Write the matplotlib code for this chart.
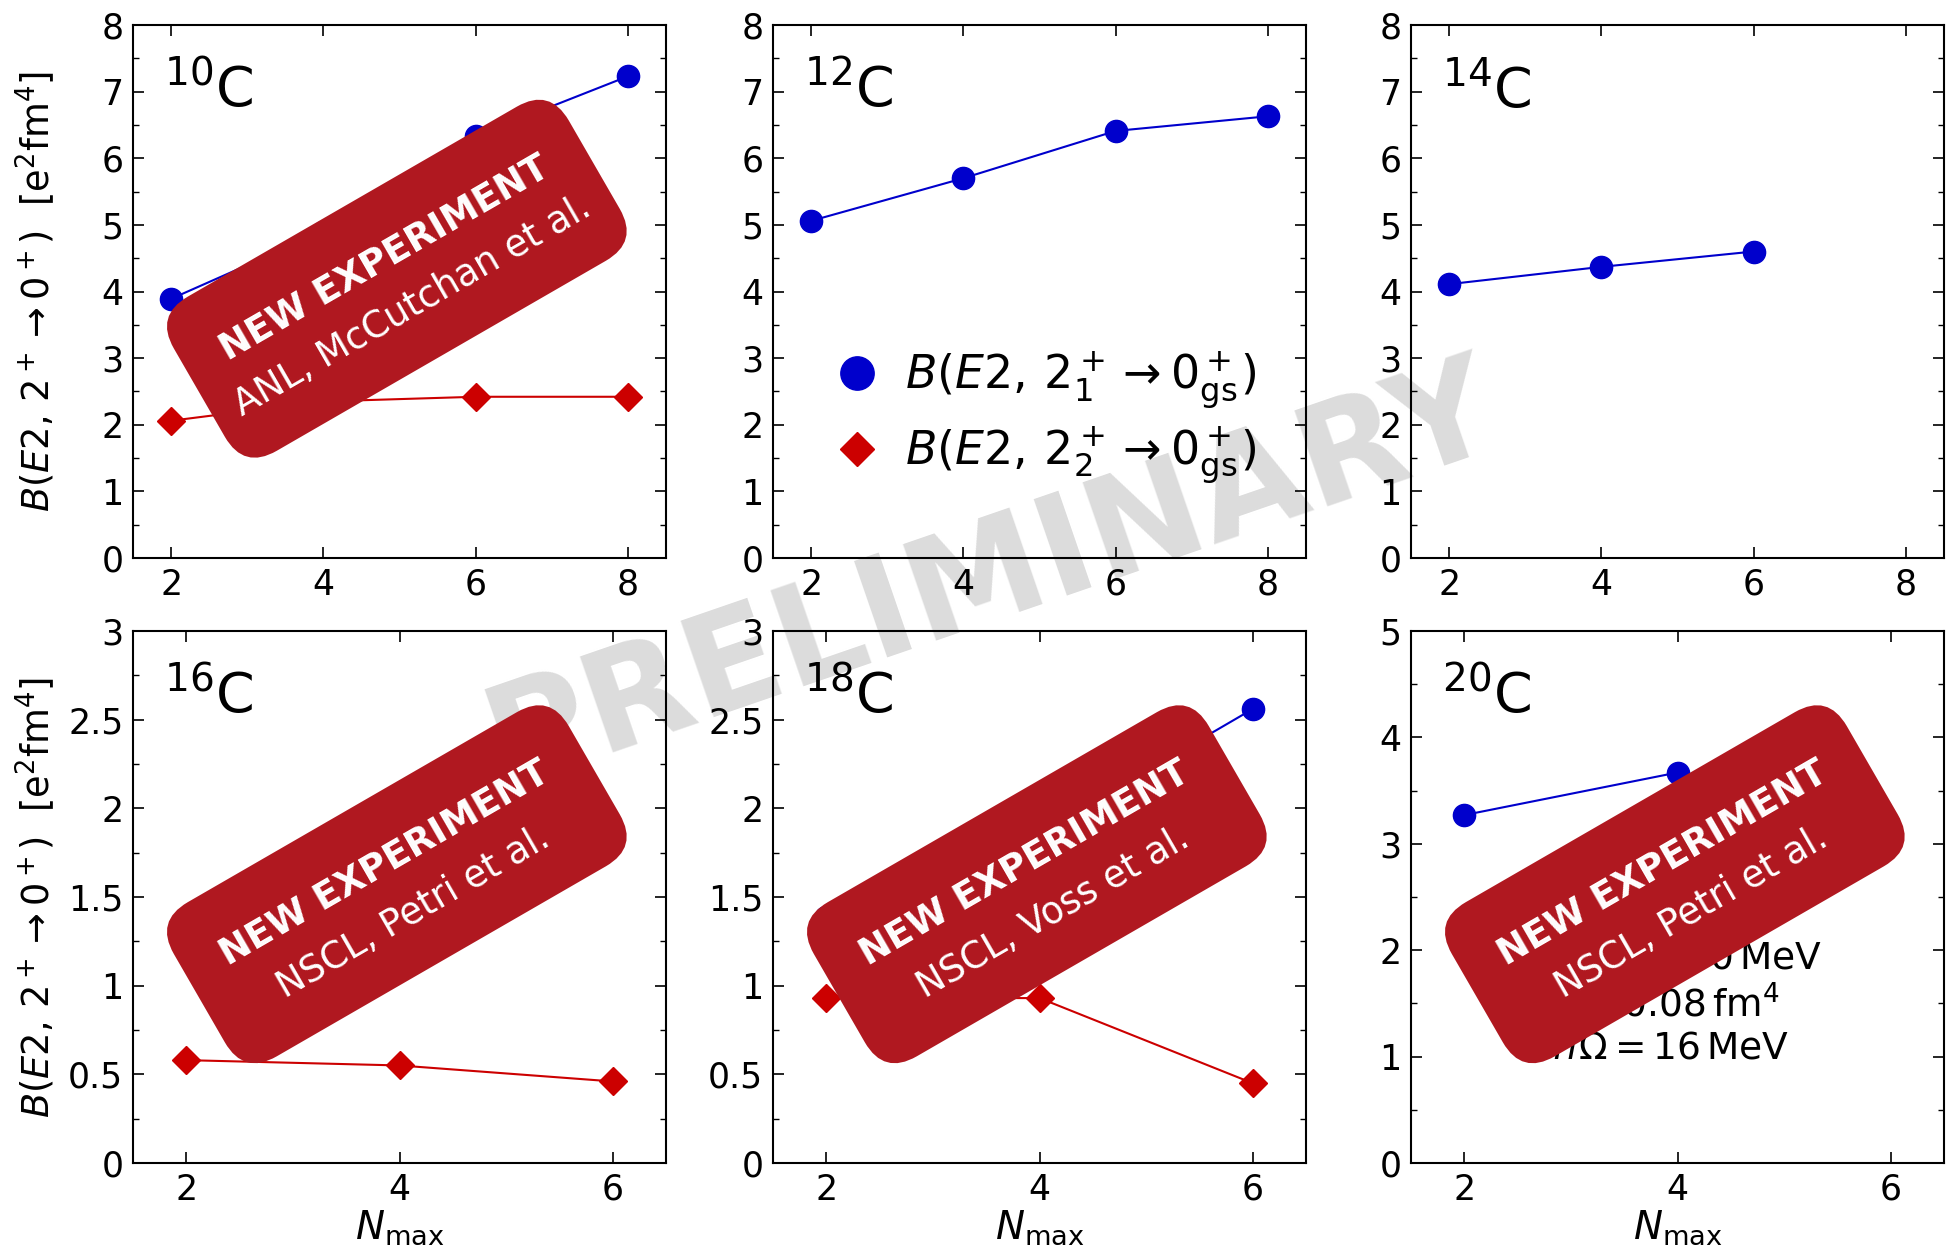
import math
import matplotlib
matplotlib.use('Agg')
import matplotlib.pyplot as plt
from matplotlib.patches import FancyBboxPatch
from matplotlib.lines import Line2D
from matplotlib.ticker import MultipleLocator, FormatStrFormatter
from matplotlib.transforms import Affine2D

# --- data ---
NMAX_LONG = [2, 4, 6, 8]
NMAX_SHORT = [2, 4, 6]

C10_FIRST = [3.89, 4.90, 6.33, 7.23]
C10_SECOND = [2.06, 2.35, 2.42, 2.42]
C12_FIRST = [5.06, 5.70, 6.41, 6.63]
C14_FIRST = [4.11, 4.37, 4.60]
C16_SECOND = [0.58, 0.55, 0.46]
C18_FIRST = [1.39, 1.86, 2.56]
C18_SECOND = [0.93, 0.93, 0.45]
C20_FIRST = [3.27, 3.67]

PANEL_LABELS = [r'$^{10}$C', r'$^{12}$C', r'$^{14}$C',
                r'$^{16}$C', r'$^{18}$C', r'$^{20}$C']
BANNER_TEXT = {
    0: 'ANL, McCutchan et al.',
    3: 'NSCL, Petri et al.',
    4: 'NSCL, Voss et al.',
    5: 'NSCL, Petri et al.',
}
PARAM_LINES = [r'$\Lambda_{3N}=400\,\mathrm{MeV}$',
               r'$\alpha=0.08\,\mathrm{fm}^4$',
               r'$\hbar\Omega=16\,\mathrm{MeV}$']
LEGEND_LABELS = [r'$B(E2,\,2^+_1\rightarrow0^+_{\rm gs})$',
                 r'$B(E2,\,2^+_2\rightarrow0^+_{\rm gs})$']
YLABEL = r'$B(E2,\,2^+\rightarrow0^+)$  [$\mathrm{e}^2\mathrm{fm}^4$]'
XLABEL = r'$N_{\rm max}$'

BLUE = '#0000cc'
RED = '#cc0000'
BANNER_COLOR = '#b01820'
BANNER_ANGLE = 30

W, H = 1948, 1253
fig = plt.figure(figsize=(W / 100, H / 100), dpi=100)
fig.patch.set_facecolor('white')

# axes boxes in pixels: left, top, right, bottom
boxes = []
for top, bot in [(25, 558), (631, 1163)]:
    for left in [133, 773, 1411]:
        boxes.append((left, top, left + 533, bot))

axes = []
for (l, t, r, b) in boxes:
    ax = fig.add_axes([l / W, 1 - b / H, (r - l) / W, (b - t) / H])
    ax.set_facecolor('none')
    axes.append(ax)

# watermark behind everything (axes are transparent)
fig.text(0.509, 0.540, 'PRELIMINARY', fontsize=100, fontweight='bold',
         color='#dcdcdc', rotation=19, rotation_mode='anchor',
         ha='center', va='center', zorder=-1)

series = [
    (NMAX_LONG, C10_FIRST, NMAX_LONG, C10_SECOND),
    (NMAX_LONG, C12_FIRST, None, None),
    (NMAX_SHORT, C14_FIRST, None, None),
    (None, None, NMAX_SHORT, C16_SECOND),
    (NMAX_SHORT, C18_FIRST, NMAX_SHORT, C18_SECOND),
    (NMAX_SHORT[:2], C20_FIRST, None, None),
]
ylims = [8, 8, 8, 3, 3, 5]
ymajor = [1, 1, 1, 0.5, 0.5, 1]


def add_banner(ax, sub):
    cx, cy = ax.transAxes.transform((0.495, 0.524))
    w, h, rad = 456, 178, 38
    rot = Affine2D().rotate_deg_around(cx, cy, BANNER_ANGLE)
    box = FancyBboxPatch((cx - w / 2, cy - h / 2), w, h,
                         boxstyle=f'round,pad=0,rounding_size={rad}',
                         fc=BANNER_COLOR, ec='none', transform=rot,
                         zorder=5, clip_on=False)
    ax.add_patch(box)
    ux = -math.sin(math.radians(BANNER_ANGLE))
    uy = math.cos(math.radians(BANNER_ANGLE))
    inv = ax.transAxes.inverted()
    for off, txt, wt in [(28, 'NEW EXPERIMENT', 'bold'), (-28, sub, 'normal')]:
        px, py = inv.transform((cx + off * ux, cy + off * uy))
        ax.text(px, py, txt, transform=ax.transAxes, rotation=BANNER_ANGLE,
                rotation_mode='anchor', ha='center', va='center_baseline',
                color='white', fontsize=26.5, fontweight=wt, zorder=6)


for i, ax in enumerate(axes):
    x1, y1, x2, y2 = series[i]
    if x1 is not None:
        ax.plot(x1, y1, '-o', color=BLUE, mec=BLUE, ms=16, lw=1.5, zorder=3)
    if x2 is not None:
        ax.plot(x2, y2, '-D', color=RED, mec=RED, ms=14, lw=1.5, zorder=3)

    if i < 3:
        ax.set_xlim(1.5, 8.5)
        ax.set_xticks([2, 4, 6, 8])
    else:
        ax.set_xlim(1.5, 6.5)
        ax.set_xticks([2, 4, 6])
    ax.set_ylim(0, ylims[i])
    ax.yaxis.set_major_locator(MultipleLocator(ymajor[i]))
    ax.yaxis.set_minor_locator(MultipleLocator(ymajor[i] / 2))
    ax.yaxis.set_major_formatter(FormatStrFormatter('%g'))

    ax.tick_params(which='both', direction='in', top=True, right=True,
                   labelsize=25)
    ax.tick_params(which='major', length=8, width=1.2, pad=7)
    ax.tick_params(which='minor', length=4, width=1.0)
    for sp in ax.spines.values():
        sp.set_linewidth(1.5)

    ax.text(0.058, 0.846, PANEL_LABELS[i], transform=ax.transAxes,
            fontsize=40, ha='left', va='baseline')

    if i in BANNER_TEXT:
        add_banner(ax, BANNER_TEXT[i])

    if i % 3 == 0:
        ax.set_ylabel(YLABEL, fontsize=26.5)
        ax.yaxis.set_label_coords(-0.142, 0.5)
    if i >= 3:
        ax.set_xlabel(XLABEL, fontsize=28)
        ax.xaxis.set_label_coords(0.5, -0.085)

# parameter block in the 20C panel
for text, yb in zip(PARAM_LINES, [0.366, 0.276, 0.197]):
    axes[5].text(0.265, yb, text, transform=axes[5].transAxes,
                 fontsize=27, ha='left', va='baseline', zorder=4)

# legend in the 12C panel
handles = [Line2D([], [], ls='none', marker='o', ms=24, color=BLUE, mec=BLUE),
           Line2D([], [], ls='none', marker='D', ms=17, color=RED, mec=RED)]
axes[1].legend(handles, LEGEND_LABELS, loc='center left',
               bbox_to_anchor=(0.115, 0.263), frameon=False, fontsize=33,
               handlelength=1.0, handletextpad=0.55, labelspacing=0.3,
               borderpad=0, borderaxespad=0, numpoints=1)

fig.savefig('out.png', dpi=100)
